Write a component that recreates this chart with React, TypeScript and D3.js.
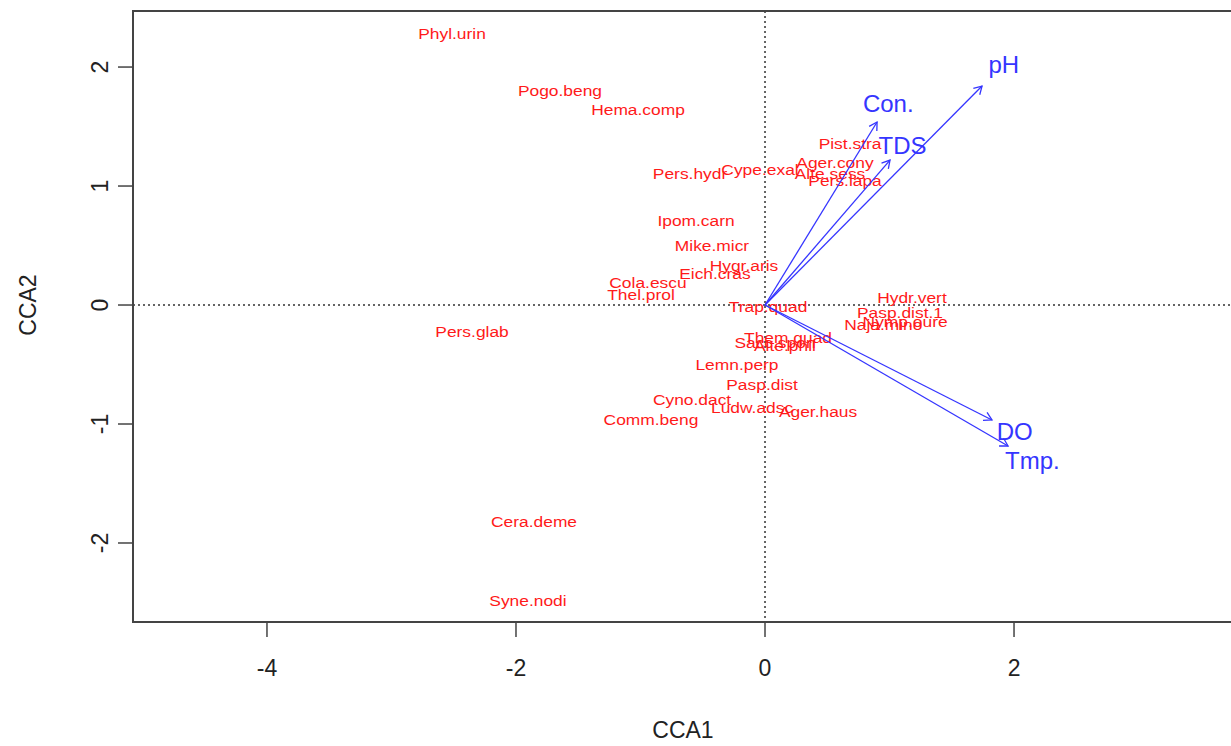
import * as d3 from "d3";

// species scores (CCA1, CCA2)
const speciesNames = [
  "Phyl.urin", "Pogo.beng", "Hema.comp", "Pist.stra", "Cype.exal", "Ager.cony",
  "Alte.sess", "Pers.lapa", "Pers.hydr", "Ipom.carn", "Mike.micr", "Hygr.aris",
  "Eich.cras", "Cola.escu", "Thel.prol", "Trap.quad", "Hydr.vert", "Pasp.dist.1",
  "Naja.mino", "Nymp.oure", "Them.quad", "Sacc.spon", "Alte.phil", "Lemn.perp",
  "Pasp.dist", "Cyno.dact", "Ludw.adsc", "Ager.haus", "Comm.beng", "Pers.glab",
  "Cera.deme", "Syne.nodi",
];
const speciesCCA1 = [
  -2.514, -1.647, -1.02, 0.683, -0.04, 0.562,
  0.522, 0.643, -0.602, -0.554, -0.426, -0.169,
  -0.402, -0.94, -0.996, 0.024, 1.18, 1.084,
  0.95, 1.125, 0.185, 0.08, 0.16, -0.225,
  -0.024, -0.586, -0.104, 0.426, -0.916, -2.353,
  -1.855, -1.904,
];
const speciesCCA2 = [
  2.277, 1.798, 1.639, 1.353, 1.134, 1.193,
  1.1, 1.042, 1.1, 0.706, 0.496, 0.328,
  0.26, 0.185, 0.084, -0.017, 0.059, -0.067,
  -0.168, -0.143, -0.277, -0.319, -0.345, -0.504,
  -0.672, -0.798, -0.866, -0.899, -0.966, -0.227,
  -1.824, -2.487,
];

// environmental vectors
const envNames = ["pH", "Con.", "TDS", "DO", "Tmp."];
const envCCA1 = [1.743, 0.9, 1.004, 1.823, 1.952];
const envCCA2 = [1.84, 1.538, 1.218, -0.966, -1.185];

const xTicks = [-4, -2, 0, 2];
const yTicks = [-2, -1, 0, 1, 2];

export default function App() {
  const width = 1231;
  const height = 746;
  const left = 133;
  const top = 11;
  const bottom = 622;
  const right = 1242;

  const x = d3.scaleLinear().domain([-5.076, 3.831]).range([left, right]);
  const y = d3.scaleLinear().domain([-2.664, 2.471]).range([bottom, top]);

  const red = "#ff1a1a";
  const blue = "#3535ff";
  const axisCol = "#444";
  const font = "Liberation Sans, Arial, sans-serif";

  const arrowHead = (x1: number, y1: number, x2: number, y2: number) => {
    const ang = Math.atan2(y2 - y1, x2 - x1);
    const len = 9;
    const a1 = ang + Math.PI - Math.PI / 6;
    const a2 = ang + Math.PI + Math.PI / 6;
    return `M${x2 + len * Math.cos(a1)},${y2 + len * Math.sin(a1)}L${x2},${y2}L${
      x2 + len * Math.cos(a2)
    },${y2 + len * Math.sin(a2)}`;
  };

  return (
    <svg
      width={width}
      height={height}
      style={{ position: "absolute", left: 0, top: 0, background: "#fff" }}
      fontFamily={font}
    >
      <rect x={0} y={0} width={width} height={height} fill="#fff" />

      {/* dotted origin lines */}
      <line
        x1={left}
        x2={right}
        y1={y(0)}
        y2={y(0)}
        stroke="#333"
        strokeWidth={1.5}
        strokeDasharray="2,3"
      />
      <line
        x1={x(0)}
        x2={x(0)}
        y1={top}
        y2={bottom}
        stroke="#333"
        strokeWidth={1.5}
        strokeDasharray="2,3"
      />

      {/* species labels */}
      {speciesNames.map((name, i) => (
        <text
          key={name}
          transform={`translate(${x(speciesCCA1[i])},${y(speciesCCA2[i])}) scale(1.2,1)`}
          textAnchor="middle"
          dominantBaseline="central"
          fontSize={14.5}
          fill={red}
        >
          {name}
        </text>
      ))}

      {/* environmental arrows */}
      {envNames.map((name, i) => {
        const x1 = x(0);
        const y1 = y(0);
        const x2 = x(envCCA1[i]);
        const y2 = y(envCCA2[i]);
        return (
          <g key={name}>
            <line x1={x1} y1={y1} x2={x2} y2={y2} stroke={blue} strokeWidth={1.3} />
            <path d={arrowHead(x1, y1, x2, y2)} fill="none" stroke={blue} strokeWidth={1.3} />
            <text
              x={x(envCCA1[i] * 1.1)}
              y={y(envCCA2[i] * 1.1)}
              textAnchor="middle"
              dominantBaseline="central"
              fontSize={24}
              fill={blue}
            >
              {name}
            </text>
          </g>
        );
      })}

      {/* box */}
      <rect
        x={left}
        y={top}
        width={right - left}
        height={bottom - top}
        fill="none"
        stroke={axisCol}
        strokeWidth={2}
      />

      {/* x axis */}
      {xTicks.map((t) => (
        <g key={t}>
          <line x1={x(t)} x2={x(t)} y1={bottom} y2={bottom + 15} stroke={axisCol} strokeWidth={1.5} />
          <text
            x={x(t)}
            y={bottom + 46}
            textAnchor="middle"
            dominantBaseline="central"
            fontSize={23}
            fill="#222"
          >
            {t}
          </text>
        </g>
      ))}

      {/* y axis */}
      {yTicks.map((t) => (
        <g key={t}>
          <line x1={left - 15} x2={left} y1={y(t)} y2={y(t)} stroke={axisCol} strokeWidth={1.5} />
          <text
            transform={`translate(${left - 33},${y(t)}) rotate(-90)`}
            textAnchor="middle"
            dominantBaseline="central"
            fontSize={23}
            fill="#222"
          >
            {t}
          </text>
        </g>
      ))}

      <text
        x={(left + width) / 2 + 1}
        y={730}
        textAnchor="middle"
        dominantBaseline="central"
        fontSize={23}
        fill="#222"
      >
        CCA1
      </text>
      <text
        transform={`translate(28,${y(0)}) rotate(-90)`}
        textAnchor="middle"
        dominantBaseline="central"
        fontSize={23}
        fill="#222"
      >
        CCA2
      </text>
    </svg>
  );
}
